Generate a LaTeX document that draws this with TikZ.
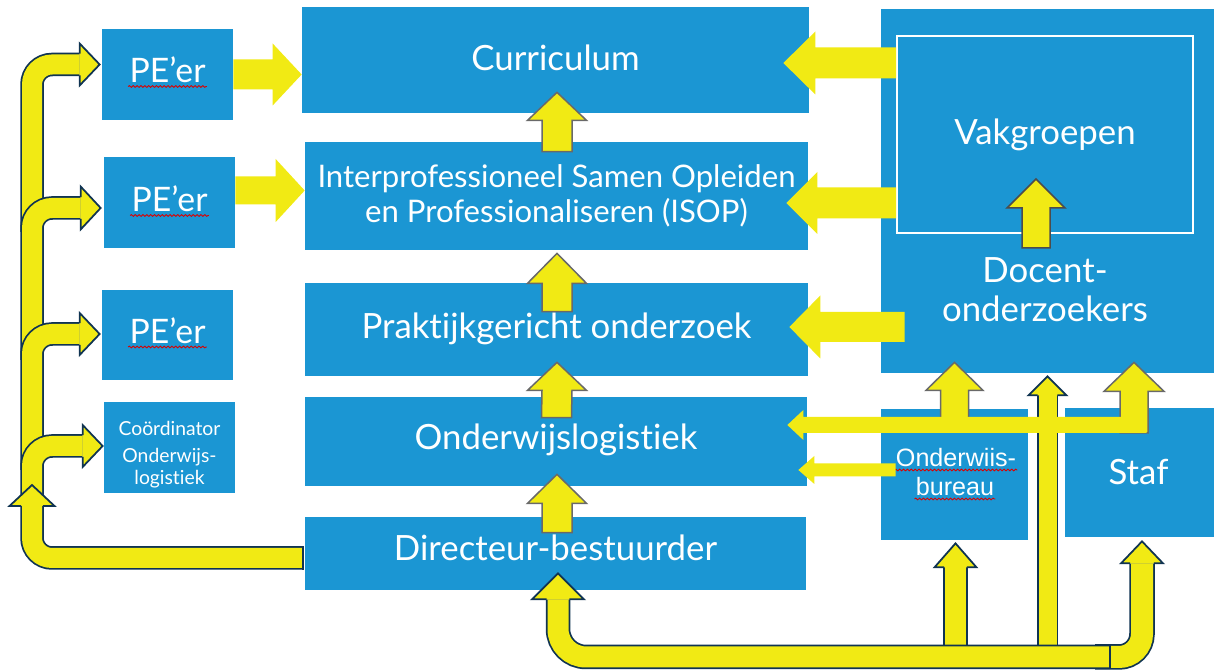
\documentclass[tikz,border=0pt]{standalone}
\usepackage{fontspec}
\setmainfont[Ligatures={NoCommon}]{Lato}
\newfontfamily\obfont{Liberation Sans}
\usetikzlibrary{calc,fit,decorations.pathmorphing}
\definecolor{bblue}{RGB}{27,150,211}
\definecolor{ayellow}{RGB}{241,234,20}
\definecolor{navy}{RGB}{16,52,82}
\definecolor{agray}{RGB}{105,105,105}
\newcommand\harrow[6]{\path[#1] ($#2+(0,-#4)$) -- ($#3+(#6,-#4)$) -- ($#3+(#6,-#5)$) -- #3 -- ($#3+(#6,#5)$) -- ($#3+(#6,#4)$) -- ($#2+(0,#4)$) -- cycle;}
\newcommand\varrow[6]{\path[#1] ($#2+(-#4,0)$) -- ($#3+(-#4,#6)$) -- ($#3+(-#5,#6)$) -- #3 -- ($#3+(#5,#6)$) -- ($#3+(#4,#6)$) -- ($#2+(#4,0)$) -- cycle;}
\newcommand\headup[4]{\fill[ayellow] ($#1+(-#2,#4)$) -- ($#1+(-#3,#4)$) -- #1 -- ($#1+(#3,#4)$) -- ($#1+(#2,#4)$) -- cycle;
 \draw[navyline] ($#1+(-#2,#4)$) -- ($#1+(-#3,#4)$) -- #1 -- ($#1+(#3,#4)$) -- ($#1+(#2,#4)$);}
\newcommand\headright[4]{\fill[ayellow] ($#1+(-#4,-#2)$) -- ($#1+(-#4,-#3)$) -- #1 -- ($#1+(-#4,#3)$) -- ($#1+(-#4,#2)$) -- cycle;
 \draw[navyline] ($#1+(-#4,-#2)$) -- ($#1+(-#4,-#3)$) -- #1 -- ($#1+(-#4,#3)$) -- ($#1+(-#4,#2)$);}
\newcommand\spellmark[1]{\draw[spell] ($(#1.base west)+(-1,3.5)$) -- ($(#1.base east)+(1,3.5)$);}
\tikzset{
 box/.style={fill=bblue, inner sep=0pt},
 txt/.style={text=white, inner sep=0pt, align=center},
 big/.style={font=\fontsize{19.8}{22.4}\selectfont},
 isopf/.style={font=\fontsize{17.7}{19.8}\selectfont},
 pef/.style={font=\fontsize{19.2}{20}\selectfont},
 smallf/.style={font=\fontsize{11}{12.6}\selectfont},
 obf/.style={font=\obfont\fontsize{14.3}{19}\selectfont},
 plain/.style={fill=ayellow},
 gout/.style={fill=ayellow, draw=agray, line width=0.03cm, line join=miter},
 gout2/.style={fill=ayellow, draw=black!70, line width=0.03cm, line join=miter},
 navyline/.style={draw=navy, line width=0.035cm, line join=miter},
 tube/.style={draw=navy, line width={(#1+3.5)*0.02cm}, postaction={draw=ayellow, line width={#1*0.02cm}}},
 spell/.style={draw=red!85!black, line width=0.5pt, decorate, decoration={snake, amplitude=0.5pt, segment length=2.2pt}}
}
\begin{document}
\begin{tikzpicture}[x=0.02cm, y=-0.02cm]
\fill[white] (0,0) rectangle (1214,671);
\useasboundingbox (0,0) rectangle (1214,671);
% boxes
\node[box, fit={(102,29) (233,120)}] (pe1) {};
\node[box, fit={(104,157) (235,248)}] (pe2) {};
\node[box, fit={(102,290) (233,380)}] (pe3) {};
\node[box, fit={(104,402) (235,493)}] (coord) {};
\node[box, fit={(302,7) (809,113)}] (cur) {};
\node[box, fit={(305,142) (808,250)}] (isop) {};
\node[box, fit={(305,283) (808,376)}] (prak) {};
\node[box, fit={(305,397) (807,486)}] (ol) {};
\node[box, fit={(305,517) (806,590)}] (dir) {};
\node[box, fit={(881,9) (1214,373)}] (doc) {};
\node[box, draw=white, line width=0.04cm, fit={(897,36) (1193,233)}] (vak) {};
\node[box, fit={(881,409) (1028,540)}] (ob) {};
\node[box, fit={(1065,408) (1214,537)}] (staf) {};
% texts
\node[txt, pef, anchor=base] (pe1-t) at ($(pe1.center)+(0,8.5)$) {PE’er};
\node[txt, pef, anchor=base] (pe2-t) at ($(pe2.center)+(0,9.5)$) {PE’er};
\node[txt, pef, anchor=base] (pe3-t) at ($(pe3.center)+(0,8.5)$) {PE’er};
\node[txt, smallf] (coord-t) at ($(coord.center)+(0,7)$) {Coördinator\\[3pt]Onderwijs-\\logistiek};
\node[txt, big] (cur-t) at ($(cur.center)+(0,-2)$) {Curriculum};
\node[txt, isopf] (isop-t) at (isop.center) {Interprofessioneel Samen Opleiden\\en Professionaliseren (ISOP)};
\node[txt, big, anchor=base] (prak-t) at ($(prak.center)+(0,9)$) {Praktijkgericht onderzoek};
\node[txt, big, anchor=base] (ol-t) at ($(ol.center)+(0,8)$) {Onderwijslogistiek};
\node[txt, big, anchor=base] (dir-t) at ($(dir.center)+(0,7)$) {Directeur-bestuurder};
\node[txt, big] (vak-t) at (vak.center) {Vakgroepen};
\node[txt, big] (doc-t) at ($(vak.south)+(0,56)$) {Docent-\\onderzoekers};
\node[txt, obf, anchor=base] (ob-t1) at ($(ob.center)+(1.5,-8)$) {Onderwiis-};
\node[txt, obf, anchor=base] (ob-t2) at ($(ob.center)+(0.5,21)$) {bureau};
\node[txt, big] (staf-t) at ($(staf.center)+(-1,-1)$) {Staf};
% spelling marks
\spellmark{pe1-t}
\spellmark{pe2-t}
\spellmark{pe3-t}
\spellmark{ob-t1}
\spellmark{ob-t2}
% coordinates
\coordinate (a1) at (cur.west |- pe1.east);
\coordinate (a2t) at ($(pe2.east)+(0,-12)$);
\coordinate (a2) at (isop.west |- a2t);
\coordinate (a3) at ($(cur.east)+(-26,3)$);
\coordinate (a3t) at (vak.west |- a3);
\coordinate (a4) at ($(isop.east)+(-22,7)$);
\coordinate (a4t) at (vak.west |- a4);
\coordinate (a5) at ($(prak.east)+(-19,-2.5)$);
\coordinate (a5t0) at (doc.west |- a5);
\coordinate (a5t) at ($(a5t0)+(24,0)$);
\coordinate (a6) at ($(ol.east)+(-9,28.5)$);
\coordinate (a6t0) at (ob.west |- a6);
\coordinate (a6t) at ($(a6t0)+(15,0)$);
\coordinate (a7) at ($(ol.east)+(-20,-16.5)$);
\coordinate (a7t0) at (staf.west |- a7);
\coordinate (a7t) at ($(a7t0)+(82,0)$);
\coordinate (u1a) at (ob.north |- doc.south);
\coordinate (u1) at ($(u1a)+(0,-11)$);
\coordinate (u1t) at (u1 |- a7);
\coordinate (u2a) at (staf.north |- doc.south);
\coordinate (u2) at ($(u2a)+(-5.5,-11)$);
\coordinate (u2b) at (u2 |- a7);
\coordinate (u2t) at ($(u2b)+(0,8)$);
\coordinate (u3) at ($(doc.south)+(0,3)$);
\coordinate (c1) at ($(cur.south)+(1.5,-21)$);
\coordinate (c1t) at ($(isop.north)+(0.5,10)$);
\coordinate (c2) at ($(isop.south)+(0.5,3)$);
\coordinate (c2t) at ($(prak.north)+(0.5,29)$);
\coordinate (c3) at ($(prak.south)+(0.5,-14)$);
\coordinate (c3t) at ($(ol.north)+(0.5,21)$);
\coordinate (c4) at ($(ol.south)+(1,-12)$);
\coordinate (c4t) at ($(dir.north)+(1.5,16)$);
\coordinate (v1) at ($(vak.south)+(-9,-55)$);
\coordinate (v1t) at ($(vak.south)+(-9,14)$);
\coordinate (h1) at ($(pe1.west)+(-2,-10)$);
\coordinate (h2) at ($(pe2.west)+(-3,5.5)$);
\coordinate (h3) at ($(pe3.west)+(-2,-1)$);
\coordinate (h4) at ($(coord.west)+(-1,-1.5)$);
\coordinate (k1) at (32,232);
\coordinate (k2) at (32,360);
\coordinate (k3) at (32,470);
\coordinate (k4) at (32,500);
\coordinate (h5) at (32,485);
\coordinate (d5) at ($(dir.west)+(-2,4.5)$);
\coordinate (g1) at ($(staf.south)+(2.5,4)$);
\coordinate (g1s) at (1095,657);
\coordinate (g2) at ($(ob.south)+(1,3)$);
\coordinate (g2s) at (g2 |- g1s);
\coordinate (g3s) at (u3 |- g1s);
\coordinate (g4) at ($(dir.south)+(2.5,-17)$);
\coordinate (g4s) at (1110,657);
% plain arrows
\harrow{plain}{(pe1.east)}{(a1)}{15}{31}{-29}
\harrow{plain}{(a2t)}{(a2)}{14}{31.5}{-29}
\harrow{plain}{(a3t)}{(a3)}{15.5}{31.5}{32}
\harrow{plain}{(a4t)}{(a4)}{15.5}{31}{31}
\harrow{plain}{(a5t)}{(a5)}{15}{31.5}{31}
\harrow{plain}{(a6t)}{(a6)}{6.5}{14}{16}
% centre column
\varrow{gout}{(c1t)}{(c1)}{15}{29.5}{28}
\varrow{gout}{(c2t)}{(c2)}{15}{29.5}{30}
\varrow{gout}{(c3t)}{(c3)}{15}{29.5}{28}
\varrow{gout}{(c4t)}{(c4)}{15}{29.5}{29}
\varrow{gout2}{(v1t)}{(v1)}{14}{29}{29}
% left bent arrows
\draw[tube=20, rounded corners=0.4cm] (k1) |- ($(h1)+(-20,0)$);
\headright{(h1)}{10.9}{21}{20}
\draw[tube=20, rounded corners=0.4cm] (k2) |- ($(h2)+(-20,0)$);
\headright{(h2)}{10.9}{21.5}{20}
\draw[tube=20, rounded corners=0.4cm] (k3) |- ($(h3)+(-20,0)$);
\headright{(h3)}{10.9}{21}{20}
\draw[tube=20, rounded corners=0.4cm] (k4) |- ($(h4)+(-20,0)$);
\headright{(h4)}{10.9}{21}{20}
\draw[tube=20, rounded corners=0.4cm] (d5) -| ($(h5)+(0,21)$);
\headup{(h5)}{10.9}{22.5}{21}
\draw[navyline] ($(d5)+(0,-11.7)$) -- ($(d5)+(0,11.7)$);
% bottom arrows
\draw[tube=22, rounded corners=0.46cm] ($(g1)+(0,22)$) |- (g1s);
\headup{(g1)}{11.9}{21}{22}
\draw[tube=21] (g2s) -- ($(g2)+(0,24)$);
\headup{(g2)}{11.4}{21}{24}
\draw[tube=18] (g3s) -- ($(u3)+(0,19)$);
\headup{(u3)}{9.9}{19}{19}
\draw[tube=21, rounded corners=0.56cm] (g4s) -| ($(g4)+(0,26)$);
\headup{(g4)}{11.4}{26}{26}
\draw[navyline] ($(g4s)+(0,-12.2)$) -- ($(g4s)+(0,12.2)$);
% T-shaped arrow from Onderwijsbureau / Staf
\varrow{gout}{(u1t)}{(u1)}{14}{28.5}{28}
\varrow{gout}{(u2t)}{(u2)}{14}{30}{29}
\harrow{plain}{(a7t)}{(a7)}{8}{15}{16}
\end{tikzpicture}
\end{document}
